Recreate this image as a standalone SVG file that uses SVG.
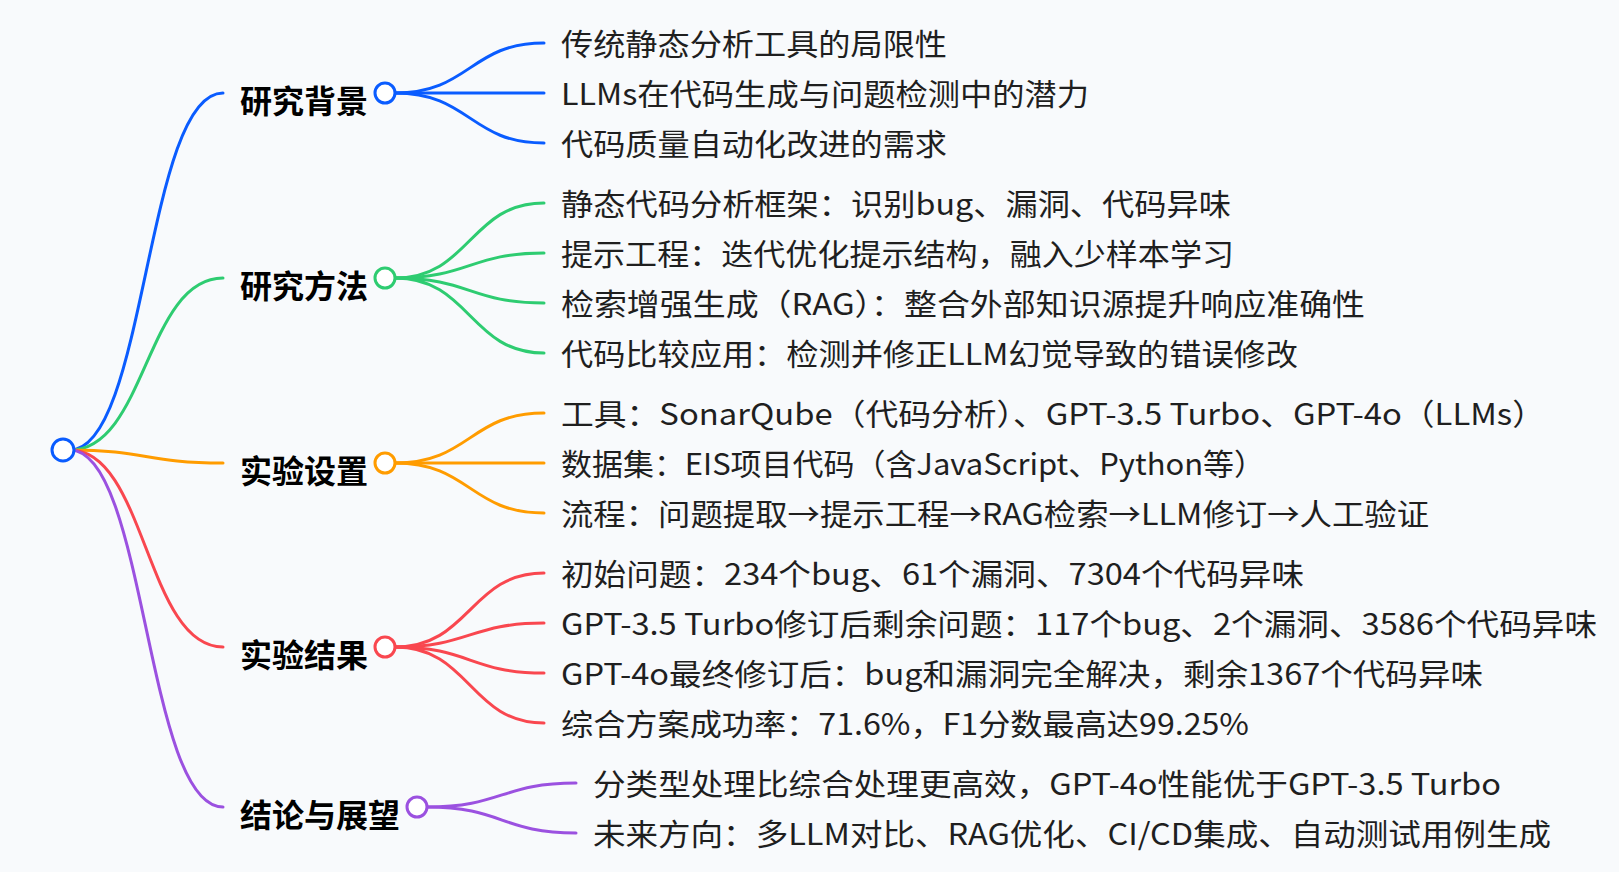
<svg xmlns="http://www.w3.org/2000/svg" width="1619" height="872" viewBox="0 0 1619 872">
<style>
.bg{fill:#f8fafc}
.lk{fill:none;stroke-width:3;stroke-linecap:round}
.b1{stroke:#0a5cff}.b2{stroke:#2ecc71}.b3{stroke:#ff9c00}.b4{stroke:#f9474f}.b5{stroke:#9b51e0}
.dot{fill:#fff;stroke-width:3}
.lbl{font-family:"Noto Sans CJK SC","Noto Sans",sans-serif;font-size:32px;font-weight:bold;fill:#000}
.txt{font-family:"Noto Sans CJK SC","Noto Sans",sans-serif;font-size:30px;fill:#1f1f1f}
</style>
<rect class="bg" x="0" y="0" width="1619" height="872"/>
<g id="connectors">
<path class="lk b1" d="M70 450 C146 450 146 93 223 93"/>
<path class="lk b2" d="M70 450 C146 450 146 278 223 278"/>
<path class="lk b3" d="M70 450 C146 450 146 463 223 463"/>
<path class="lk b4" d="M70 450 C146 450 146 647 223 647"/>
<path class="lk b5" d="M70 450 C146 450 146 807 223 807"/>
<path class="lk b1" d="M395 93 C470 93 470 43 544 43"/>
<path class="lk b1" d="M395 93 L544 93"/>
<path class="lk b1" d="M395 93 C470 93 470 143 544 143"/>
<path class="lk b2" d="M395 278 C470 278 470 203 544 203"/>
<path class="lk b2" d="M395 278 C470 278 470 253 544 253"/>
<path class="lk b2" d="M395 278 C470 278 470 303 544 303"/>
<path class="lk b2" d="M395 278 C470 278 470 353 544 353"/>
<path class="lk b3" d="M395 463 C470 463 470 413 544 413"/>
<path class="lk b3" d="M395 463 L544 463"/>
<path class="lk b3" d="M395 463 C470 463 470 513 544 513"/>
<path class="lk b4" d="M395 647 C470 647 470 573 544 573"/>
<path class="lk b4" d="M395 647 C470 647 470 623 544 623"/>
<path class="lk b4" d="M395 647 C470 647 470 673 544 673"/>
<path class="lk b4" d="M395 647 C470 647 470 723 544 723"/>
<path class="lk b5" d="M427 807 C502 807 502 783 576 783"/>
<path class="lk b5" d="M427 807 C502 807 502 833 576 833"/>
</g>
<g id="root"><circle class="dot b1" cx="63" cy="450" r="11"/></g>
<g id="n1">
<text class="lbl" x="240" y="113">研究背景</text>
<circle class="dot b1" cx="385" cy="93" r="10"/>
</g>
<g id="n1c">
<text class="txt" x="561" y="55" textLength="386" lengthAdjust="spacingAndGlyphs">传统静态分析工具的局限性</text>
<text class="txt" x="561" y="105" textLength="528" lengthAdjust="spacingAndGlyphs">LLMs在代码生成与问题检测中的潜力</text>
<text class="txt" x="561" y="155" textLength="386" lengthAdjust="spacingAndGlyphs">代码质量自动化改进的需求</text>
</g>
<g id="n2">
<text class="lbl" x="240" y="298">研究方法</text>
<circle class="dot b2" cx="385" cy="278" r="10"/>
</g>
<g id="n2c">
<text class="txt" x="561" y="215" textLength="670" lengthAdjust="spacingAndGlyphs">静态代码分析框架：识别bug、漏洞、代码异味</text>
<text class="txt" x="561" y="265" textLength="673" lengthAdjust="spacingAndGlyphs">提示工程：迭代优化提示结构，融入少样本学习</text>
<text class="txt" x="561" y="315" textLength="804" lengthAdjust="spacingAndGlyphs">检索增强生成（RAG）：整合外部知识源提升响应准确性</text>
<text class="txt" x="561" y="365" textLength="737" lengthAdjust="spacingAndGlyphs">代码比较应用：检测并修正LLM幻觉导致的错误修改</text>
</g>
<g id="n3">
<text class="lbl" x="240" y="483">实验设置</text>
<circle class="dot b3" cx="385" cy="463" r="10"/>
</g>
<g id="n3c">
<text class="txt" x="561" y="425" textLength="984" lengthAdjust="spacingAndGlyphs">工具：SonarQube（代码分析）、GPT-3.5 Turbo、GPT-4o（LLMs）</text>
<text class="txt" x="561" y="475" textLength="704" lengthAdjust="spacingAndGlyphs">数据集：EIS项目代码（含JavaScript、Python等）</text>
<text class="txt" x="561" y="525" textLength="868" lengthAdjust="spacingAndGlyphs">流程：问题提取→提示工程→RAG检索→LLM修订→人工验证</text>
</g>
<g id="n4">
<text class="lbl" x="240" y="667">实验结果</text>
<circle class="dot b4" cx="385" cy="647" r="10"/>
</g>
<g id="n4c">
<text class="txt" x="561" y="585" textLength="743" lengthAdjust="spacingAndGlyphs">初始问题：234个bug、61个漏洞、7304个代码异味</text>
<text class="txt" x="561" y="635" textLength="1036" lengthAdjust="spacingAndGlyphs">GPT-3.5 Turbo修订后剩余问题：117个bug、2个漏洞、3586个代码异味</text>
<text class="txt" x="561" y="685" textLength="922" lengthAdjust="spacingAndGlyphs">GPT-4o最终修订后：bug和漏洞完全解决，剩余1367个代码异味</text>
<text class="txt" x="561" y="735" textLength="688" lengthAdjust="spacingAndGlyphs">综合方案成功率：71.6%，F1分数最高达99.25%</text>
</g>
<g id="n5">
<text class="lbl" x="240" y="827">结论与展望</text>
<circle class="dot b5" cx="417" cy="807" r="10"/>
</g>
<g id="n5c">
<text class="txt" x="593" y="795" textLength="908" lengthAdjust="spacingAndGlyphs">分类型处理比综合处理更高效，GPT-4o性能优于GPT-3.5 Turbo</text>
<text class="txt" x="593" y="845" textLength="958" lengthAdjust="spacingAndGlyphs">未来方向：多LLM对比、RAG优化、CI/CD集成、自动测试用例生成</text>
</g>
</svg>
